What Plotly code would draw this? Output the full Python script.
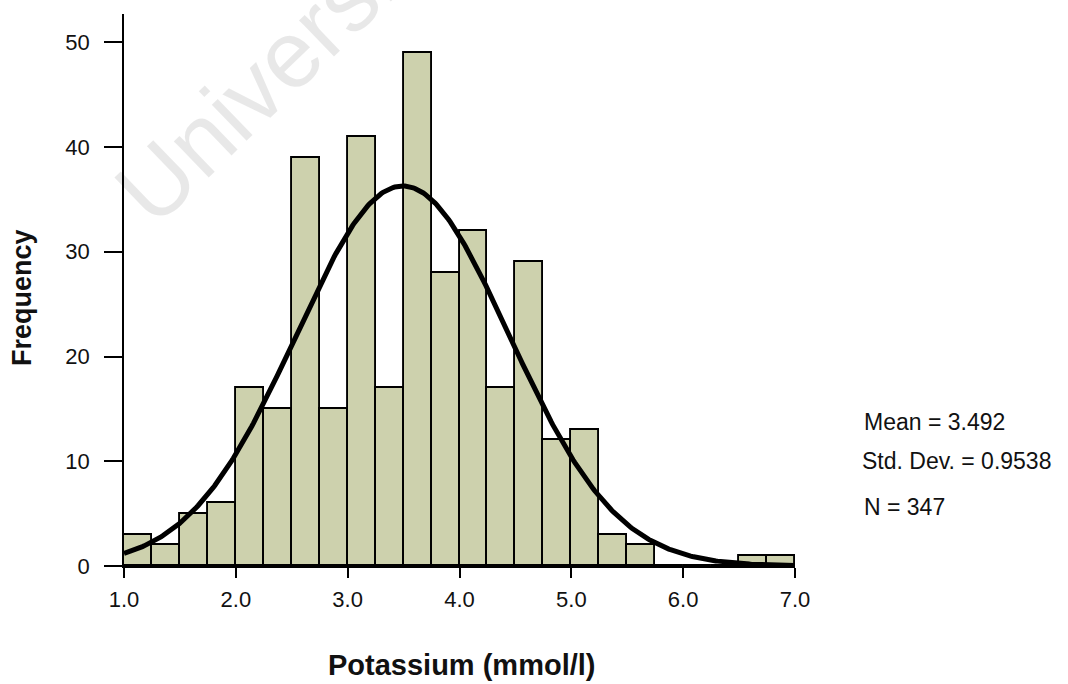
import numpy as np
import plotly.graph_objects as go

# Histogram bins (left edges, mmol/l) and counts
bin_left = [1.00, 1.25, 1.50, 1.75, 2.00, 2.25, 2.50, 2.75, 3.00, 3.25, 3.50, 3.75,
            4.00, 4.25, 4.50, 4.75, 5.00, 5.25, 5.50, 5.75, 6.00, 6.25, 6.50, 6.75]
counts = [3, 2, 5, 6, 17, 15, 39, 15, 41, 17, 49, 28,
          32, 17, 29, 12, 13, 3, 2, 0, 0, 0, 1, 1]
bin_width = 0.25

# Summary statistics
mean_k = 3.492
sd_k = 0.9538
n_k = 347

x_ticks = [1.0, 2.0, 3.0, 4.0, 5.0, 6.0, 7.0]
x_tick_text = ["1.0", "2.0", "3.0", "4.0", "5.0", "6.0", "7.0"]
y_ticks = [0, 10, 20, 30, 40, 50]

# Fitted normal curve (scaled to counts)
xs = np.linspace(1.0, 7.0, 400)
ys = n_k * bin_width / (sd_k * np.sqrt(2 * np.pi)) * np.exp(-0.5 * ((xs - mean_k) / sd_k) ** 2)

centers = [b + bin_width / 2 for b in bin_left]

fig = go.Figure()
fig.add_trace(go.Bar(
    x=centers, y=counts, width=bin_width,
    marker=dict(color="#cdd1ad", line=dict(color="black", width=1.9)),
    hoverinfo="skip",
))
fig.add_trace(go.Scatter(
    x=xs, y=ys, mode="lines",
    line=dict(color="black", width=5),
    hoverinfo="skip",
))

FONT = "Liberation Sans, Arial, sans-serif"

fig.update_layout(
    width=1068, height=684,
    margin=dict(l=124, r=273, t=14, b=118, autoexpand=False),
    paper_bgcolor="white", plot_bgcolor="white",
    showlegend=False,
    bargap=0,
    font=dict(family=FONT, color="#111111", size=22),
    xaxis=dict(
        range=[1.0, 7.0], tickvals=x_ticks, ticktext=x_tick_text,
        showline=True, linecolor="black", linewidth=1.5,
        ticks="outside", ticklen=10, tickwidth=1.5, tickcolor="black",
        showgrid=False, zeroline=False, automargin=False,
        tickfont=dict(size=22, family=FONT),
        ticklabelstandoff=3,
    ),
    yaxis=dict(
        range=[0, 52.7], tickvals=y_ticks,
        showline=True, linecolor="black", linewidth=1.5,
        ticks="outside", ticklen=18, tickwidth=1.5, tickcolor="black",
        showgrid=False, zeroline=False, automargin=False,
        tickfont=dict(size=22, family=FONT),
        ticklabelstandoff=10,
    ),
    annotations=[
        dict(text="<b>Potassium (mmol/l)</b>", xref="paper", yref="paper", x=0.504, y=-0.179,
             xanchor="center", yanchor="middle", showarrow=False, font=dict(size=29)),
        dict(text="<b>Frequency</b>", xref="paper", yref="paper", x=-0.152, y=0.4855,
             xanchor="center", yanchor="middle", showarrow=False, textangle=-90,
             font=dict(size=27)),
        dict(text="Mean = 3.492", xref="paper", yref="paper", x=1.1, y=0.261,
             xanchor="left", yanchor="middle", showarrow=False, font=dict(size=23)),
        dict(text="Std. Dev. = 0.9538", xref="paper", yref="paper", x=1.097, y=0.190,
             xanchor="left", yanchor="middle", showarrow=False, font=dict(size=23)),
        dict(text="N = 347", xref="paper", yref="paper", x=1.1, y=0.107,
             xanchor="left", yanchor="middle", showarrow=False, font=dict(size=23)),
        dict(text="University", xref="paper", yref="paper", x=0.235, y=0.915,
             xanchor="center", yanchor="middle", showarrow=False, textangle=-44,
             font=dict(size=95, color="rgba(0,0,0,0.09)")),
    ],
)

fig.write_html("out.html")
